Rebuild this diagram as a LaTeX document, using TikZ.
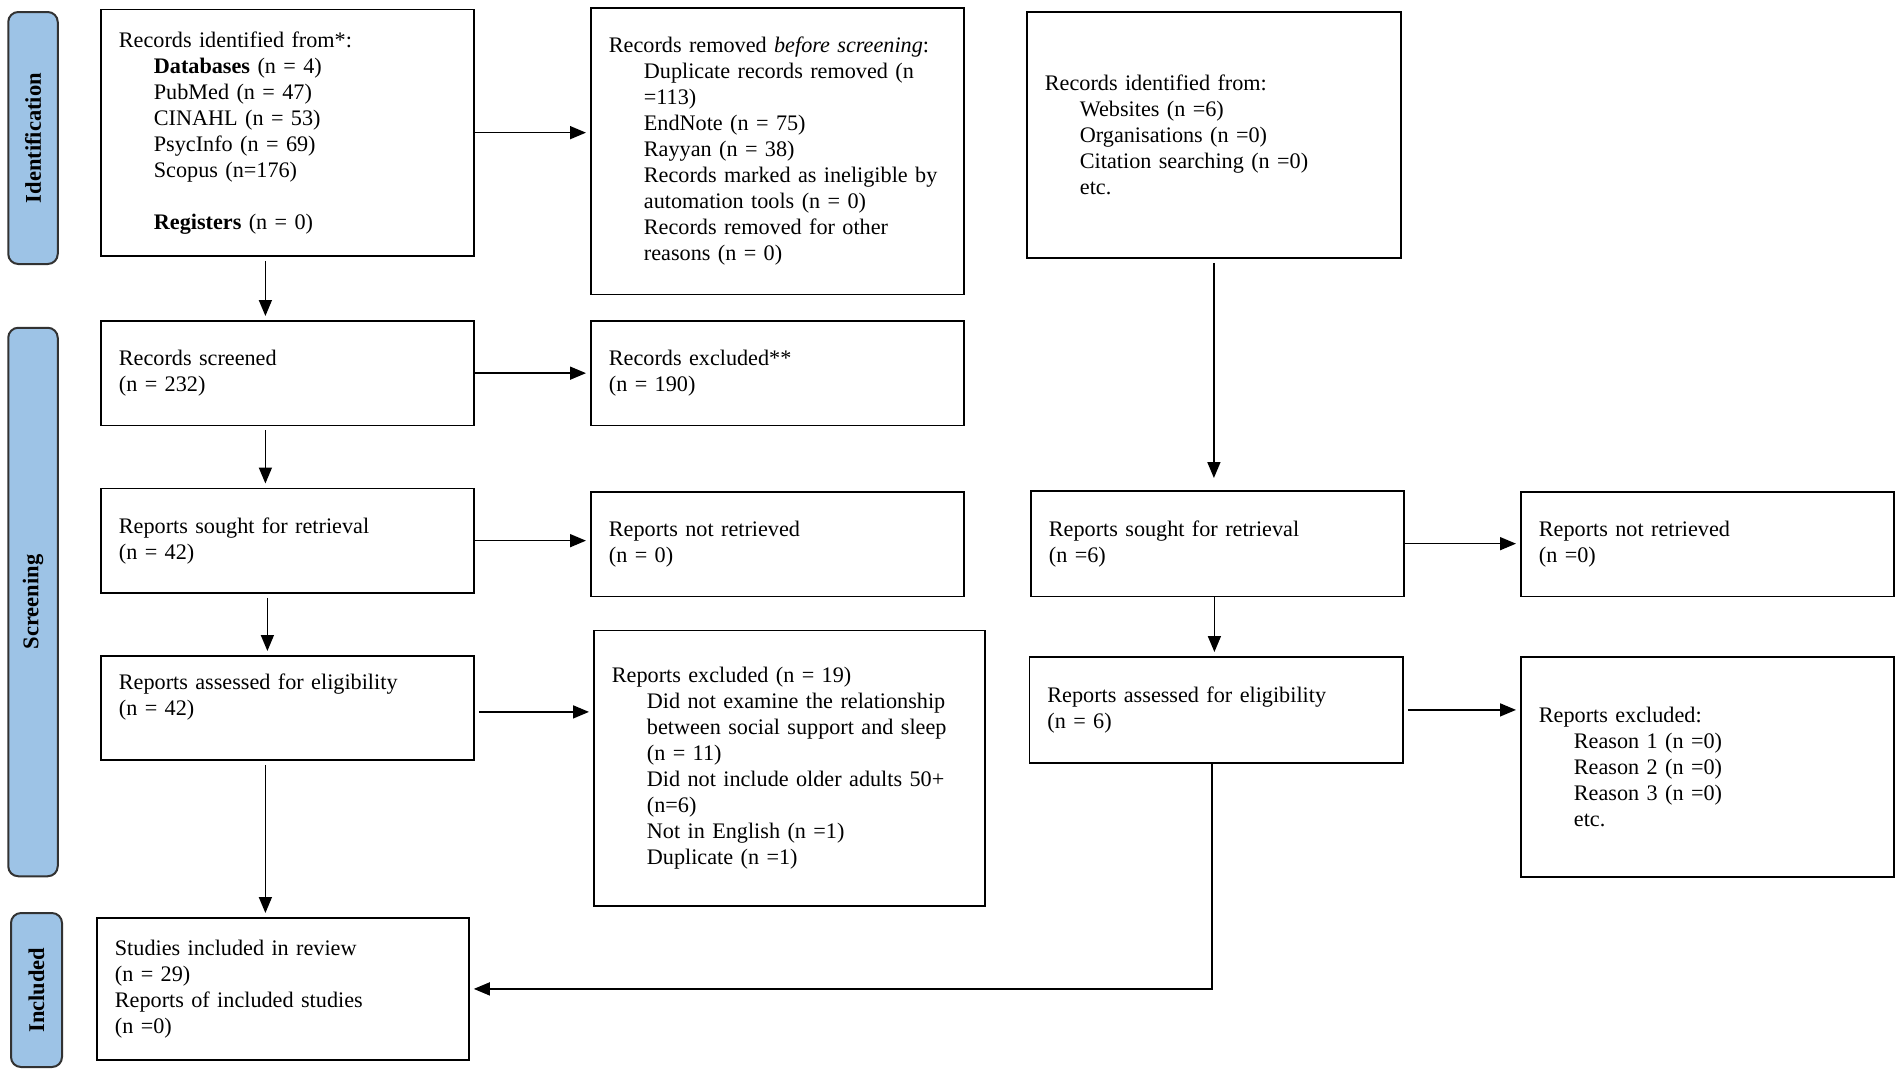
\documentclass[tikz,border=0pt]{standalone}
\usepackage{fontspec}
\setmainfont{Liberation Serif}
\usetikzlibrary{arrows.meta}
\newcommand{\subind}{\hspace*{35pt}}

\begin{document}
\begin{tikzpicture}[x=1pt,y=1pt,yscale=-1,xscale=1,
  recbox/.style 2 args={draw, line width=1.8pt, inner xsep=18pt, inner ysep=0pt, text width=#1, minimum height=#2, align=left, anchor=north west, font=\fontsize{22.2}{26}\selectfont},
  phasebar/.style 2 args={draw={rgb, 255:red, 50; green, 50; blue, 50}, line width=2pt, rounded corners=10pt, fill={rgb, 255:red, 157; green, 195; blue, 230}, minimum width=#1, minimum height=#2, inner sep=0pt, rotate=90, font=\fontsize{22.5}{26}\selectfont\bfseries},
  flow/.style={-{Triangle[length=16pt,width=13pt]}, line width=1.6pt, shorten <=4pt, shorten >=4pt}]
%set diagram size to the reference
\useasboundingbox (0,0) rectangle (1902,1072);

%Shape: Phase bars
\node[phasebar={252pt}{49.5pt}] (phaseid) at (33,138) {Identification};
\node[phasebar={548.5pt}{49.5pt}] (phasescreen) at (33,602) {Screening};
\node[phasebar={154pt}{51pt}] (phaseinc) at (36.5,990) {Included};

%Shape: Rectangle -- databases column
\node[recbox={337pt}{246.5pt}] (recid) at (100,8.5) {Records identified from*:\\
  \subind\textbf{Databases} (n = 4)\\
  \subind PubMed (n = 47)\\
  \subind CINAHL (n = 53)\\
  \subind PsycInfo (n = 69)\\
  \subind Scopus (n=176)\\
  \mbox{}\\
  \subind\textbf{Registers} (n = 0)};
\node[recbox={337pt}{286.5pt}] (recremoved) at (590,7) {Records removed \textit{before screening}:\\
  \subind Duplicate records removed (n\\
  \subind =113)\\
  \subind EndNote (n = 75)\\
  \subind Rayyan (n = 38)\\
  \subind Records marked as ineligible by\\
  \subind automation tools (n = 0)\\
  \subind Records removed for other\\
  \subind reasons (n = 0)};
\node[recbox={337pt}{104.5pt}] (screened) at (100,320) {Records screened\\(n = 232)};
\node[recbox={337pt}{104.5pt}] (excluded) at (590,320) {Records excluded**\\(n = 190)};
\node[recbox={337pt}{104.5pt}] (sought) at (100,487.5) {Reports sought for retrieval\\(n = 42)};
\node[recbox={337pt}{104.5pt}] (notretr) at (590,491) {Reports not retrieved\\(n = 0)};
\node[recbox={337pt}{104pt}] (assessed) at (100,655) {Reports assessed for eligibility\\(n = 42)\\ \mbox{}};
\node[recbox={355pt}{275.5pt}] (repexcl) at (593,629.5) {Reports excluded (n = 19)\\
  \subind Did not examine the relationship\\
  \subind between social support and sleep\\
  \subind (n = 11)\\
  \subind Did not include older adults 50+\\
  \subind (n=6)\\
  \subind Not in English (n =1)\\
  \subind Duplicate (n =1)};
\node[recbox={336pt}{142pt}] (included) at (96,917) {Studies included in review\\(n = 29)\\Reports of included studies\\(n =0)};

%Shape: Rectangle -- other methods column
\node[recbox={338pt}{246pt}] (otherid) at (1026,11) {Records identified from:\\
  \subind Websites (n =6)\\
  \subind Organisations (n =0)\\
  \subind Citation searching (n =0)\\
  \subind etc.};
\node[recbox={337pt}{105.5pt}] (othersought) at (1030,490) {Reports sought for retrieval\\(n =6)};
\node[recbox={337pt}{104.5pt}] (othernotretr) at (1520,491) {Reports not retrieved\\(n =0)};
\node[recbox={337.5pt}{106pt}] (otherassessed) at (1028.5,656) {Reports assessed for eligibility\\(n = 6)};
\node[recbox={337pt}{220pt}] (otherexcl) at (1520,656) {Reports excluded:\\
  \subind Reason 1 (n =0)\\
  \subind Reason 2 (n =0)\\
  \subind Reason 3 (n =0)\\
  \subind etc.};

%Straight Lines -- databases column
\draw[flow] ([xshift=-22pt]recid.south) -- ([xshift=-22pt]recid.south |- screened.north);
\draw[flow] ([xshift=-22pt]screened.south) -- ([xshift=-22pt]screened.south |- sought.north);
\draw[flow] ([xshift=-20pt]sought.south) -- ([xshift=-20pt]sought.south |- assessed.north);
\draw[flow] ([xshift=-22pt]assessed.south) -- ([xshift=-22pt]assessed.south |- included.north);
\draw[flow, shorten <=0pt] (recid.east) -- (recid.east -| recremoved.west);
\draw[flow, shorten <=0pt] (screened.east) -- (screened.east -| excluded.west);
\draw[flow, shorten <=0pt] (sought.east) -- (sought.east -| notretr.west);
\draw[flow] ([yshift=4pt]assessed.east) -- ([yshift=4pt]assessed.east -| repexcl.west);

%Straight Lines -- other methods column
\draw[flow, shorten >=12pt] (otherid.south) -- (otherid.south |- othersought.north);
\draw[flow, shorten <=0pt] (othersought.east) -- (othersought.east -| othernotretr.west);
\draw[flow, shorten <=0pt] ([xshift=-3pt]othersought.south) -- ([xshift=-3pt]othersought.south |- otherassessed.north);
\draw[flow] (otherassessed.east) -- (otherassessed.east -| otherexcl.west);
\draw[flow, shorten <=0pt] ([xshift=-4pt]otherassessed.south) |- (included.east);

\end{tikzpicture}
\end{document}
